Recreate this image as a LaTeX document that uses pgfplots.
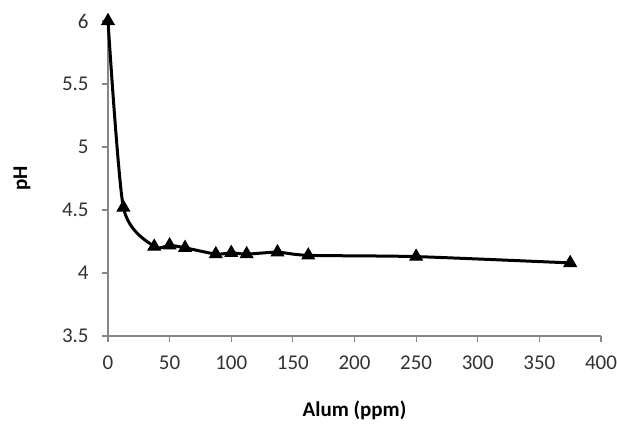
\documentclass[border=0pt]{standalone}
\usepackage{fontspec}
\setmainfont{Carlito}
\usepackage{pgfplots}
\pgfplotsset{compat=1.18}
\definecolor{axgray}{RGB}{134,134,134}
\definecolor{txtgray}{RGB}{50,50,50}
\begin{document}
\fontsize{10.5}{12.6}\selectfont
\begin{tikzpicture}
\path[use as bounding box] (-54pt,-45pt) rectangle (254.5pt,168pt);
\begin{axis}[
  at={(0,0)}, anchor=south west,
  scale only axis, width=246.5pt, height=157.5pt,
  xmin=0, xmax=400, ymin=3.5, ymax=6,
  xtick={0,50,...,400}, ytick={3.5,4,...,6},
  axis x line*=bottom, axis y line*=left,
  axis line style={axgray, line width=0.6pt, -},
  tick style={axgray, line width=0.6pt},
  tick align=outside, major tick length=3pt,
  tick label style={font=\fontsize{10.5}{12.6}\selectfont, text=txtgray},
  /pgf/number format/assume math mode=true,
  yticklabel style={/pgf/number format/fixed, /pgf/number format/precision=1},
  xticklabel style={yshift=-3pt},
  yticklabel style={xshift=-3pt},
  xlabel={\textbf{Alum (ppm)}}, ylabel={\textbf{pH}},
  xlabel style={at={(axis description cs:0.5,0)}, anchor=center, yshift=-37pt},
  ylabel style={at={(axis description cs:0,0.5)}, anchor=center, yshift=43pt},
  clip=false,
]
\addplot[black, line width=1.5pt, smooth, tension=0.4, mark=triangle*, mark size=3.6pt, mark options={solid, fill=black, line width=0.5pt}]
coordinates {
(0,6) (12.5,4.52) (37.5,4.21) (50,4.22) (62.5,4.20) (87.5,4.15) (100,4.16) (112.5,4.15) (137.5,4.165) (162.5,4.14) (250,4.13) (375,4.08)
};
\end{axis}
\end{tikzpicture}
\end{document}
